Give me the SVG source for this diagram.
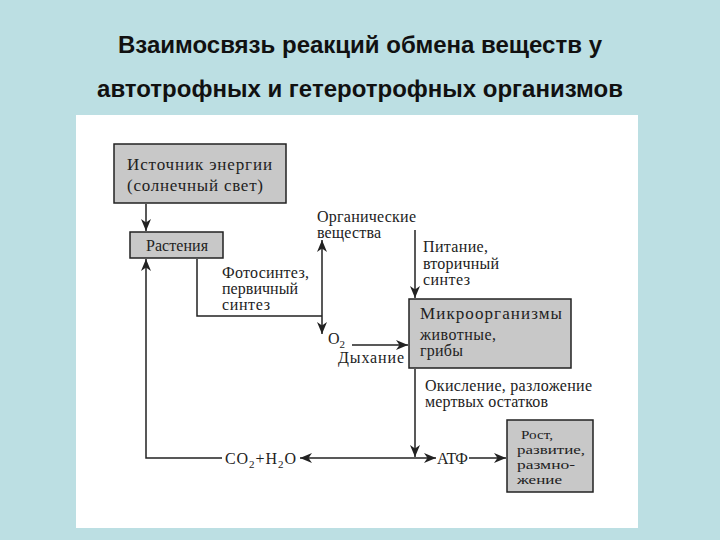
<svg xmlns="http://www.w3.org/2000/svg" width="720" height="540" viewBox="0 0 720 540">
<defs>
<style>
.t{font-family:"Liberation Serif","Times New Roman",serif;font-size:16px;fill:#222}
.b{font-size:17px}
.m{font-size:13.5px}
.s{font-size:11px}
.ttl{font-family:"Liberation Sans",Arial,sans-serif;font-size:24px;font-weight:bold;fill:#111;text-anchor:middle}
.box{fill:#c8c8c8;stroke:#222;stroke-width:1.5}
.ln{fill:none;stroke:#222;stroke-width:1.5}
</style>
<marker id="ah" viewBox="0 0 12 10" refX="12" refY="5" markerWidth="12" markerHeight="10" markerUnits="userSpaceOnUse" orient="auto">
<path d="M0,0 L12,5 L0,10 L3.5,5 Z" fill="#222"/>
</marker>
</defs>
<rect x="0" y="0" width="720" height="540" fill="#bcdfe3"/>
<rect x="76" y="115" width="562" height="413" fill="#ffffff"/>
<text class="ttl" x="360" y="53">Взаимосвязь реакций обмена веществ у</text>
<text class="ttl" x="360" y="97">автотрофных и гетеротрофных организмов</text>

<g id="connectors">
<path class="ln" d="M146,204 V231" marker-end="url(#ah)"/>
<path class="ln" d="M197,259 V316 H322"/>
<path class="ln" d="M322,316 V240" marker-end="url(#ah)"/>
<path class="ln" d="M322,316 V334" marker-end="url(#ah)"/>
<path class="ln" d="M415,230 V298" marker-end="url(#ah)"/>
<path class="ln" d="M352,345 H408" marker-end="url(#ah)"/>
<path class="ln" d="M415,369 V457" marker-end="url(#ah)"/>
<path class="ln" d="M222,458 H146 V259" marker-end="url(#ah)"/>
<path class="ln" d="M415,458 H300" marker-end="url(#ah)"/>
<path class="ln" d="M415,458 H436" marker-end="url(#ah)"/>
<path class="ln" d="M469,458 H506" marker-end="url(#ah)"/>
</g>

<g id="source">
<rect class="box" x="114" y="144" width="172" height="59"/>
<text class="t b" x="127" y="170" textLength="145">Источник энергии</text>
<text class="t b" x="127" y="191" textLength="136">(солнечный свет)</text>
</g>
<g id="plants">
<rect class="box" x="130" y="232" width="93" height="26"/>
<text class="t" x="146" y="251" textLength="62">Растения</text>
</g>
<g id="organic">
<text class="t" x="317" y="222" textLength="99">Органические</text>
<text class="t" x="317" y="238" textLength="64">вещества</text>
</g>
<g id="photosynthesis">
<text class="t" x="222" y="278" textLength="87">Фотосинтез,</text>
<text class="t" x="222" y="294" textLength="76">первичный</text>
<text class="t" x="222" y="310" textLength="48">синтез</text>
</g>
<g id="nutrition">
<text class="t" x="423" y="252" textLength="65">Питание,</text>
<text class="t" x="423" y="269" textLength="76">вторичный</text>
<text class="t" x="423" y="285" textLength="47">синтез</text>
</g>
<g id="micro">
<rect class="box" x="409" y="299" width="162" height="69"/>
<text class="t b" x="420" y="319" textLength="142">Микроорганизмы</text>
<text class="t" x="420" y="340" textLength="76">животные,</text>
<text class="t" x="420" y="356" textLength="43">грибы</text>
</g>
<g id="respiration">
<text class="t" x="328" y="344">O<tspan dy="4" class="s">2</tspan></text>
<text class="t" x="338" y="363" textLength="66">Дыхание</text>
</g>
<g id="oxidation">
<text class="t" x="425" y="391" textLength="167">Окисление, разложение</text>
<text class="t" x="425" y="407" textLength="123">мертвых остатков</text>
</g>
<g id="co2">
<text class="t" x="225" y="464" textLength="71">CO<tspan dy="4" class="s">2</tspan><tspan dy="-4">+H</tspan><tspan dy="4" class="s">2</tspan><tspan dy="-4">O</tspan></text>
</g>
<g id="atp">
<text class="t" x="437" y="464" textLength="31">АТФ</text>
</g>
<g id="growth">
<rect class="box" x="507" y="420" width="86" height="72"/>
<text class="t m" x="521" y="439" textLength="32" lengthAdjust="spacingAndGlyphs">Рост,</text>
<text class="t m" x="517" y="454" textLength="68" lengthAdjust="spacingAndGlyphs">развитие,</text>
<text class="t m" x="517" y="469" textLength="58" lengthAdjust="spacingAndGlyphs">размно-</text>
<text class="t m" x="517" y="484" textLength="45" lengthAdjust="spacingAndGlyphs">жение</text>
</g>
</svg>
